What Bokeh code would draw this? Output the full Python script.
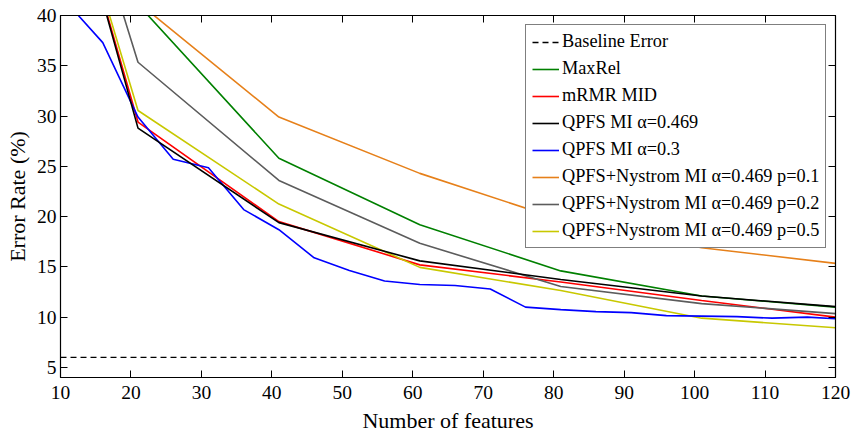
from bokeh.plotting import figure
from bokeh.models import Range1d, LinearAxis, FixedTicker, Legend, LegendItem
from bokeh.embed import file_html
from bokeh.resources import INLINE

# ---- data ----
x_every20 = [1, 21, 41, 61, 81, 101, 120]
x_every5 = [11, 16, 21, 26, 31, 36, 41, 46, 51, 56, 61, 66, 71, 76, 81, 86, 91,
            96, 101, 106, 111, 116, 120]

baseline_error = 6.0
maxrel = [80.0, 41.1, 25.8, 19.2, 14.6, 12.1, 11.0]
mrmr_mid = [78.3, 29.4, 19.5, 15.2, 13.5, 11.65, 10.0]
qpfs_469 = [79.3, 28.8, 19.4, 15.6, 13.75, 12.1, 11.05]
qpfs_03 = [41.2, 37.3, 29.9, 25.7, 24.85, 20.7, 18.7, 15.9, 14.65, 13.6, 13.25,
           13.15, 12.8, 11.0, 10.75, 10.55, 10.45, 10.15, 10.1, 10.05, 9.9, 10.0, 9.85]
nys_p01 = [80.0, 41.3, 29.9, 24.3, 19.7, 16.9, 15.35]
nys_p02 = [80.5, 35.35, 23.6, 17.35, 13.05, 11.35, 10.35]
nys_p05 = [77.3, 30.55, 21.25, 14.95, 12.65, 9.9, 8.95]

x_ticks = [10, 20, 30, 40, 50, 60, 70, 80, 90, 100, 110, 120]
y_ticks = [5, 10, 15, 20, 25, 30, 35, 40]
x_limits = (10, 120)
y_limits = (4, 40)

FONT = "Liberation Serif"

p = figure(width=852, height=435, output_backend="svg", toolbar_location=None,
           x_range=Range1d(*x_limits), y_range=Range1d(*y_limits),
           min_border_left=60, min_border_right=17, min_border_top=15,
           min_border_bottom=58)
p.xgrid.visible = False
p.ygrid.visible = False
p.outline_line_color = "black"
p.outline_line_width = 1

def style_axis(ax, ticks, labels=True):
    ax.ticker = FixedTicker(ticks=ticks)
    ax.major_tick_in = 7
    ax.major_tick_out = 0
    ax.minor_tick_line_color = None
    ax.axis_line_color = "black"
    ax.axis_line_width = 1.2
    ax.major_tick_line_color = "black"
    ax.major_tick_line_width = 1
    if labels:
        ax.major_label_text_font = FONT
        ax.major_label_text_font_size = "19.5px"
        ax.major_label_text_color = "black"
    else:
        ax.major_label_text_font_size = "0px"
        ax.major_label_text_color = None

style_axis(p.xaxis[0], x_ticks)
style_axis(p.yaxis[0], y_ticks)
p.xaxis[0].major_label_standoff = 8
p.yaxis[0].major_label_standoff = 4
p.xaxis.axis_label = "Number of features"
p.yaxis.axis_label = "Error Rate (%)"
for ax in (p.xaxis[0], p.yaxis[0]):
    ax.axis_label_text_font = FONT
    ax.axis_label_text_font_size = "22px"
    ax.axis_label_text_font_style = "normal"
    ax.axis_label_text_color = "black"
p.xaxis[0].axis_label_standoff = 6
p.yaxis[0].axis_label_standoff = 4

top_ax = LinearAxis()
style_axis(top_ax, x_ticks, labels=False)
p.add_layout(top_ax, "above")
right_ax = LinearAxis()
style_axis(right_ax, y_ticks, labels=False)
p.add_layout(right_ax, "right")

lw = 1.6
r_base = p.line(list(x_limits), [baseline_error, baseline_error], line_color="black",
                line_width=1.4, line_dash="6 4")
r_maxrel = p.line(x_every20, maxrel, line_color="#008000", line_width=lw)
r_mrmr = p.line(x_every20, mrmr_mid, line_color="#ff0000", line_width=lw)
r_nys01 = p.line(x_every20, nys_p01, line_color="#e6801a", line_width=lw)
r_nys02 = p.line(x_every20, nys_p02, line_color="#5c5c5c", line_width=lw)
r_nys05 = p.line(x_every20, nys_p05, line_color="#c8c800", line_width=lw)
r_qpfs03 = p.line(x_every5, qpfs_03, line_color="#0000ff", line_width=lw)
r_qpfs = p.line(x_every20, qpfs_469, line_color="black", line_width=lw)

legend = Legend(items=[
    LegendItem(label="Baseline Error", renderers=[r_base]),
    LegendItem(label="MaxRel", renderers=[r_maxrel]),
    LegendItem(label="mRMR MID", renderers=[r_mrmr]),
    LegendItem(label="QPFS MI \u03b1=0.469", renderers=[r_qpfs]),
    LegendItem(label="QPFS MI \u03b1=0.3", renderers=[r_qpfs03]),
    LegendItem(label="QPFS+Nystrom MI \u03b1=0.469 p=0.1", renderers=[r_nys01]),
    LegendItem(label="QPFS+Nystrom MI \u03b1=0.469 p=0.2", renderers=[r_nys02]),
    LegendItem(label="QPFS+Nystrom MI \u03b1=0.469 p=0.5", renderers=[r_nys05]),
], location=(465, 129))
legend.margin = 0
legend.padding = 6
legend.spacing = 6
legend.label_height = 20
legend.glyph_height = 20
legend.glyph_width = 27
legend.label_standoff = 3
legend.label_text_font = FONT
legend.label_text_font_size = "18.3px"
legend.label_text_color = "black"
legend.border_line_color = "black"
legend.border_line_width = 1
legend.background_fill_color = "white"
legend.background_fill_alpha = 1
p.add_layout(legend, "center")

open("out.html", "w").write(file_html(p, INLINE))
